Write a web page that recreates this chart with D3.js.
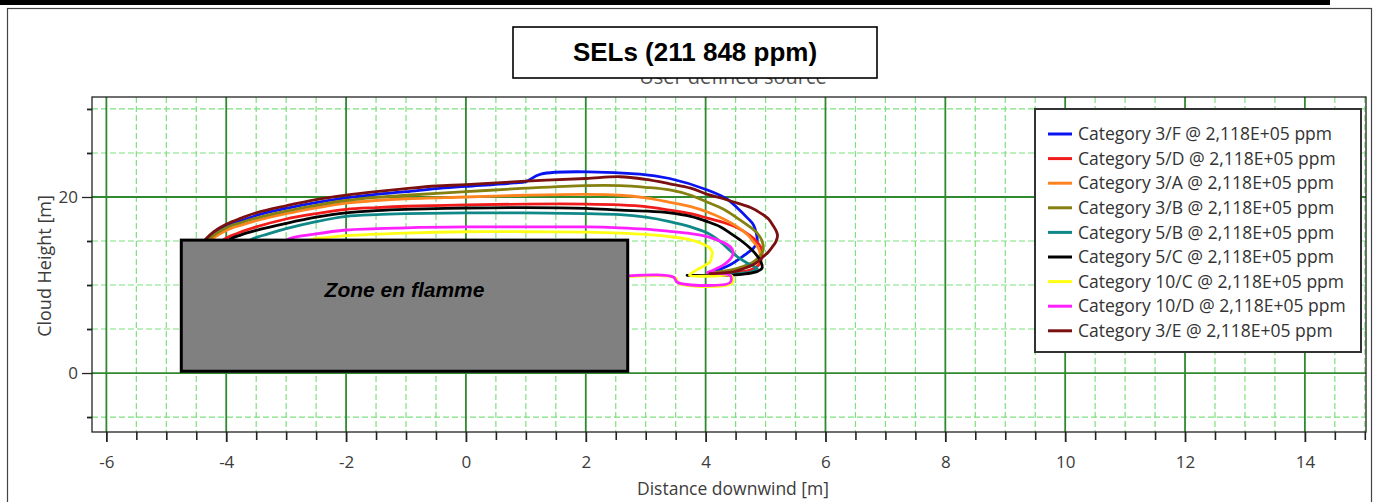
<!DOCTYPE html>
<html>
<head>
<meta charset="utf-8">
<script src="https://cdn.jsdelivr.net/npm/d3@7"></script>
<style>
  html, body { margin: 0; padding: 0; background: #fff; }
  svg { display: block; }
</style>
</head>
<body>
<svg id="chart" width="1375" height="502"></svg>
<script>
// ---- Cloud contours at 2,118E+05 ppm, [distance downwind m, height m] ----
const cat3F = [[-4.45,13.8],[-4.32,15.1],[-4.15,16.0],[-4.0,16.7],[-3.7,17.4],[-3.5,17.9],[-3.0,18.7],[-2.5,19.35],[-2.0,19.9],[-1.5,20.3],[-1.0,20.6],[-0.5,20.95],[0,21.2],[0.8,21.6],[1.0,21.75],[1.25,22.6],[2.9,22.6],[3.4,22.1],[4.03,20.8],[4.35,19.8],[4.53,18.75],[4.7,17.6],[4.8,16.8],[4.86,14.9],[4.8,14.2],[4.69,13.6],[4.41,12.3],[4.07,11.4]];
const cat5D = [[-4.15,13.8],[-4.05,15.1],[-3.8,15.9],[-3.5,16.6],[-3.0,17.5],[-2.5,18.1],[-2.0,18.6],[-1.5,18.8],[-1.0,18.95],[0,19.1],[1,19.2],[2,19.2],[2.57,19.1],[3.0,18.9],[3.4,18.5],[3.75,18.1],[4.03,17.6],[4.3,17.1],[4.53,16.5],[4.7,15.8],[4.83,15.1],[4.92,14.3],[4.94,13.6],[4.93,13.0],[4.91,12.5],[4.84,12.0],[4.74,11.7],[4.6,11.5],[4.41,11.4],[4.1,11.3]];
const cat3A = [[-4.35,13.8],[-4.25,15.1],[-4.0,16.2],[-3.75,16.8],[-3.5,17.3],[-3.0,18.1],[-2.5,18.75],[-2.0,19.3],[-1.5,19.6],[-1.0,19.8],[0,20.0],[1,20.2],[2,20.3],[2.57,20.2],[3.0,19.9],[3.4,19.4],[3.75,18.9],[4.03,18.3],[4.3,17.5],[4.53,16.6],[4.7,15.7],[4.8,14.9],[4.88,14.2],[4.91,13.6],[4.9,13.0],[4.86,12.6],[4.76,12.2],[4.62,11.9],[4.45,11.6],[4.24,11.4]];
const cat3B = [[-4.4,13.8],[-4.3,15.1],[-4.0,16.5],[-3.75,17.1],[-3.5,17.6],[-3.0,18.4],[-2.5,19.05],[-2.0,19.6],[-1.5,19.95],[-1.0,20.2],[0,20.6],[1,21.0],[2,21.3],[2.57,21.3],[3.0,21.1],[3.4,20.8],[3.75,20.2],[4.03,19.4],[4.3,18.6],[4.53,17.6],[4.72,16.7],[4.86,15.9],[4.93,15.2],[4.96,14.5],[4.96,14.0],[4.94,13.6],[4.88,13.1],[4.79,12.6],[4.62,12.1],[4.41,11.7],[4.07,11.4]];
const cat5B = [[-3.75,13.8],[-3.6,15.1],[-3.3,15.8],[-3.0,16.4],[-2.5,17.2],[-2.0,17.8],[-1.5,18.0],[-1.0,18.1],[0,18.2],[1,18.2],[2,18.1],[2.57,18.0],[3.0,17.7],[3.4,17.2],[3.75,16.6],[4.03,15.9],[4.25,14.9],[4.41,13.9],[4.55,13.1],[4.69,12.5],[4.8,12.1],[4.86,11.9],[4.8,11.6],[4.7,11.4],[4.45,11.25],[4.2,11.2]];
const cat5C = [[-4.05,13.8],[-3.95,15.1],[-3.75,15.7],[-3.5,16.2],[-3.0,17.0],[-2.5,17.7],[-2.0,18.2],[-1.5,18.45],[-1.0,18.6],[0,18.75],[1,18.8],[2,18.7],[2.57,18.5],[3.0,18.4],[3.4,18.2],[3.75,17.8],[4.03,17.2],[4.25,16.6],[4.41,15.9],[4.6,15.0],[4.74,14.2],[4.85,13.4],[4.91,12.8],[4.94,12.3],[4.94,11.9],[4.88,11.6],[4.79,11.4],[4.6,11.2],[4.41,11.1],[4.0,11.1],[3.69,11.1]];
const cat10C = [[-2.75,13.8],[-2.6,15.1],[-2.3,15.4],[-2.0,15.6],[-1.0,15.9],[0,16.05],[1,16.05],[2,16.0],[2.57,15.9],[3.0,15.75],[3.4,15.5],[3.7,15.2],[3.9,14.8],[4.05,14.3],[4.11,13.75],[4.1,13.2],[4.07,12.6],[3.98,12.2],[3.9,11.9],[3.8,11.5],[3.73,11.1],[4.1,11.0],[4.44,11.0],[4.44,10.2],[3.55,10.2],[3.5,10.8],[2.0,10.8],[-4.4,10.8]];
const cat10D = [[-3.15,13.8],[-3.0,15.1],[-2.5,15.8],[-2.0,16.25],[-1.0,16.5],[0,16.6],[1,16.6],[2,16.6],[2.57,16.5],[3.0,16.35],[3.4,16.1],[3.75,15.85],[4.03,15.5],[4.2,15.1],[4.36,14.6],[4.44,14.1],[4.46,13.6],[4.43,13.1],[4.36,12.6],[4.28,12.2],[4.19,11.9],[4.1,11.6],[4.03,11.4],[4.41,11.1],[4.41,10.3],[3.53,10.3],[3.46,10.9],[2.0,10.9],[-4.4,10.9]];
const cat3E = [[-4.5,13.8],[-4.36,15.1],[-4.2,16.1],[-4.0,16.9],[-3.75,17.6],[-3.5,18.2],[-3.0,19.0],[-2.5,19.7],[-2.0,20.2],[-1.5,20.6],[-1.0,20.95],[-0.5,21.25],[0,21.4],[1,21.8],[2,22.1],[2.57,22.3],[3.0,22.0],[3.4,21.5],[3.75,21.0],[4.03,20.3],[4.3,19.8],[4.53,19.3],[4.75,18.8],[4.91,18.2],[5.05,17.5],[5.13,16.7],[5.18,16.1],[5.2,15.6],[5.17,14.9],[5.11,14.3],[5.04,13.7],[4.96,13.2],[4.88,12.7],[4.79,12.3],[4.65,11.9],[4.46,11.5],[4.07,11.3]];

const seriesNames = ["Category 3/F @ 2,118E+05 ppm","Category 5/D @ 2,118E+05 ppm","Category 3/A @ 2,118E+05 ppm","Category 3/B @ 2,118E+05 ppm","Category 5/B @ 2,118E+05 ppm","Category 5/C @ 2,118E+05 ppm","Category 10/C @ 2,118E+05 ppm","Category 10/D @ 2,118E+05 ppm","Category 3/E @ 2,118E+05 ppm"];
const seriesData = [cat3F, cat5D, cat3A, cat3B, cat5B, cat5C, cat10C, cat10D, cat3E];
const seriesColors = ["#0a14f0","#f01c1c","#ff8420","#858010","#108888","#000000","#ffff14","#ff20ff","#7a1010"];

// Burning zone, [x0, x1] and [y0, y1] in metres
const zoneX = [-4.75, 2.7];
const zoneY = [0.2, 15.1];
const zoneLabel = "Zone en flamme";

// Axes
const xDomain = [-6.24, 15.02];
const yDomain = [-6.7, 31.36];
const xMajorTicks = [-6,-4,-2,0,2,4,6,8,10,12,14];
const xMinorTicks = d3.range(-6, 15.01, 0.5).filter(v => Math.abs(v % 2) > 1e-9);
const yMajorTicks = [0, 20];
const yMinorTicks = [-5, 5, 10, 15, 25, 30];

const titleText = "SELs (211 848 ppm)";
const subtitleText = "User defined source";
const xTitle = "Distance downwind [m]";
const yTitle = "Cloud Height [m]";

// ---- Layout ----
const svg = d3.select("#chart");
const plot = { left: 92, right: 1366, top: 97, bottom: 432 };
const x = d3.scaleLinear().domain(xDomain).range([plot.left, plot.right]);
const y = d3.scaleLinear().domain(yDomain).range([plot.bottom, plot.top]);

const uiFont = "'Open Sans', 'Noto Sans', sans-serif";
const axisColor = "#3c3c3c";
const plainNumber = d => String(d);   // hyphen-minus, as in the source tool

// page frame
svg.append("rect").attr("x", 0).attr("y", 0).attr("width", 1330).attr("height", 5).attr("fill", "#000");
svg.append("rect").attr("x", 7.5).attr("y", 8.5).attr("width", 1364).attr("height", 500)
  .attr("fill", "none").attr("stroke", "#444").attr("stroke-width", 1.2);

// subtitle (partly behind the title box)
svg.append("text").attr("x", 733).attr("y", 84).attr("text-anchor", "middle")
  .attr("font-family", uiFont).attr("font-size", 20).attr("fill", "#555").text(subtitleText);

// grid
const grid = svg.append("g");
grid.selectAll(".vmin").data(xMinorTicks).join("line")
  .attr("x1", d => x(d)).attr("x2", d => x(d)).attr("y1", plot.top).attr("y2", plot.bottom)
  .attr("stroke", "#7fe07f").attr("stroke-width", 1.2).attr("stroke-dasharray", "6,3");
grid.selectAll(".hmin").data(yMinorTicks).join("line")
  .attr("y1", d => y(d)).attr("y2", d => y(d)).attr("x1", plot.left).attr("x2", plot.right)
  .attr("stroke", "#7fe07f").attr("stroke-width", 1.2).attr("stroke-dasharray", "6,3");
grid.selectAll(".vmaj").data(xMajorTicks).join("line")
  .attr("x1", d => x(d)).attr("x2", d => x(d)).attr("y1", plot.top).attr("y2", plot.bottom)
  .attr("stroke", "#2f8a2f").attr("stroke-width", 1.8);
grid.selectAll(".hmaj").data(yMajorTicks).join("line")
  .attr("y1", d => y(d)).attr("y2", d => y(d)).attr("x1", plot.left).attr("x2", plot.right)
  .attr("stroke", "#2f8a2f").attr("stroke-width", 1.8);

// contours
svg.append("defs").append("clipPath").attr("id", "plotClip")
  .append("rect").attr("x", plot.left).attr("y", plot.top)
  .attr("width", plot.right - plot.left).attr("height", plot.bottom - plot.top);
const line = d3.line().x(d => x(d[0])).y(d => y(d[1])).curve(d3.curveCatmullRom.alpha(0.5));
svg.append("g").attr("clip-path", "url(#plotClip)")
  .selectAll("path").data(seriesData).join("path")
  .attr("d", line).attr("fill", "none")
  .attr("stroke", (d, i) => seriesColors[i]).attr("stroke-width", 2.8)
  .attr("stroke-linejoin", "round").attr("stroke-linecap", "round");

// burning zone
svg.append("rect")
  .attr("x", x(zoneX[0])).attr("y", y(zoneY[1]))
  .attr("width", x(zoneX[1]) - x(zoneX[0])).attr("height", y(zoneY[0]) - y(zoneY[1]))
  .attr("fill", "#808080").attr("stroke", "#000").attr("stroke-width", 3);
svg.append("text")
  .attr("x", x((zoneX[0] + zoneX[1]) / 2)).attr("y", 297).attr("text-anchor", "middle")
  .attr("font-family", "'Liberation Sans', Arial, sans-serif").attr("font-weight", "bold")
  .attr("font-style", "italic").attr("font-size", 21).attr("fill", "#000").text(zoneLabel);

// plot border
svg.append("rect").attr("x", plot.left).attr("y", plot.top)
  .attr("width", plot.right - plot.left).attr("height", plot.bottom - plot.top)
  .attr("fill", "none").attr("stroke", "#222").attr("stroke-width", 1.3);

// x axis
const xAxisMajor = d3.axisBottom(x).tickValues(xMajorTicks).tickSize(10).tickFormat(plainNumber);
const xAxisMinor = d3.axisBottom(x).tickValues(xMinorTicks).tickSize(8).tickFormat("");
const gxm = svg.append("g").attr("transform", `translate(0,${plot.bottom})`).call(xAxisMinor);
gxm.select(".domain").remove();
gxm.selectAll(".tick line").attr("stroke", "#222").attr("stroke-width", 1.6);
const gx = svg.append("g").attr("transform", `translate(0,${plot.bottom})`).call(xAxisMajor);
gx.select(".domain").remove();
gx.selectAll(".tick line").attr("stroke", "#222").attr("stroke-width", 1.8);
gx.selectAll(".tick text").attr("y", 24).attr("font-family", uiFont).attr("font-size", 17).attr("fill", axisColor);

// y axis
const yAxisMajor = d3.axisLeft(y).tickValues(yMajorTicks).tickSize(10).tickPadding(4).tickFormat(plainNumber);
const yAxisMinor = d3.axisLeft(y).tickValues(yMinorTicks).tickSize(5).tickFormat("");
const gym = svg.append("g").attr("transform", `translate(${plot.left},0)`).call(yAxisMinor);
gym.select(".domain").remove();
gym.selectAll(".tick line").attr("stroke", "#222").attr("stroke-width", 1.8);
const gy = svg.append("g").attr("transform", `translate(${plot.left},0)`).call(yAxisMajor);
gy.select(".domain").remove();
gy.selectAll(".tick line").attr("stroke", "#222").attr("stroke-width", 1.3);
gy.selectAll(".tick text").attr("font-family", uiFont).attr("font-size", 17).attr("fill", axisColor);

// axis titles
svg.append("text").attr("x", 733).attr("y", 495).attr("text-anchor", "middle")
  .attr("font-family", uiFont).attr("font-size", 17.5).attr("fill", axisColor).text(xTitle);
svg.append("text").attr("transform", "translate(51,266) rotate(-90)").attr("text-anchor", "middle")
  .attr("font-family", uiFont).attr("font-size", 18).attr("fill", axisColor).text(yTitle);

// title box
svg.append("rect").attr("x", 513).attr("y", 27).attr("width", 364).attr("height", 51)
  .attr("fill", "#fff").attr("stroke", "#000").attr("stroke-width", 1.6);
svg.append("text").attr("x", 695).attr("y", 61).attr("text-anchor", "middle")
  .attr("font-family", "'Liberation Sans', Arial, sans-serif").attr("font-weight", "bold")
  .attr("font-size", 26).attr("fill", "#000").text(titleText);

// legend
const legend = svg.append("g");
legend.append("rect").attr("x", 1035).attr("y", 109).attr("width", 326).attr("height", 243)
  .attr("fill", "#fff").attr("stroke", "#333").attr("stroke-width", 2);
const rows = legend.selectAll(".row").data(seriesNames).join("g")
  .attr("transform", (d, i) => `translate(1048,${134 + i * 24.6})`);
rows.append("line").attr("x1", 0).attr("x2", 24).attr("y1", 0).attr("y2", 0)
  .attr("stroke", (d, i) => seriesColors[i]).attr("stroke-width", 3);
rows.append("text").attr("x", 30).attr("y", 0).attr("dy", "0.35em")
  .attr("font-family", uiFont).attr("font-size", 17.5).attr("fill", "#333").text(d => d);
</script>
</body>
</html>
